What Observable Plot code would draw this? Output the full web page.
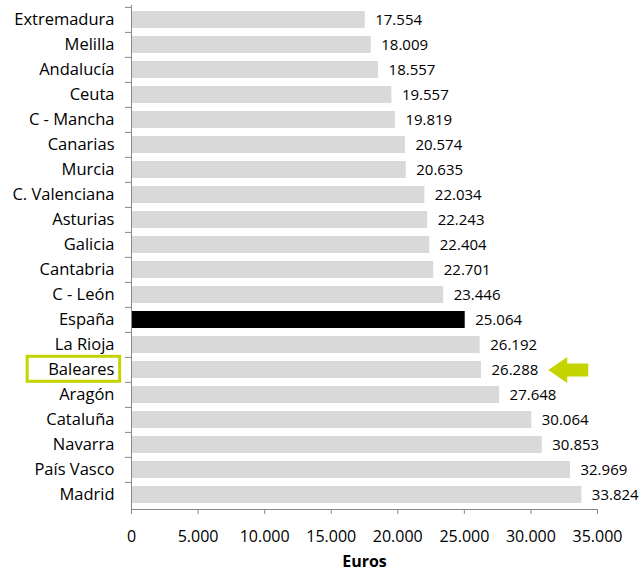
<!DOCTYPE html>
<html>
<head>
<meta charset="utf-8">
<script src="https://cdn.jsdelivr.net/npm/d3@7"></script>
<script src="https://cdn.jsdelivr.net/npm/@observablehq/plot@0.6"></script>
<style>
  html, body { margin: 0; padding: 0; background: #fff; }
</style>
</head>
<body>
<script>
const regions = ["Extremadura","Melilla","Andalucía","Ceuta","C - Mancha","Canarias","Murcia","C. Valenciana","Asturias","Galicia","Cantabria","C - León","España","La Rioja","Baleares","Aragón","Cataluña","Navarra","País Vasco","Madrid"];
const values = [17554,18009,18557,19557,19819,20574,20635,22034,22243,22404,22701,23446,25064,26192,26288,27648,30064,30853,32969,33824];
const xTicks = [0,5000,10000,15000,20000,25000,30000,35000];
const highlighted = "Baleares";
const total = "España";
const arrowTip = [31300];
const axisTitle = "Euros";

const data = regions.map((r, i) => ({region: r, value: values[i]}));
const fmt = d3.formatLocale({decimal: ",", thousands: ".", grouping: [3], currency: ["", "€"]}).format(",d");

const green = "#c3d400";
const arrowSymbol = {
  draw(ctx) {
    ctx.moveTo(0, 0);
    ctx.lineTo(19, -13);
    ctx.lineTo(19, -6.5);
    ctx.lineTo(40, -6.5);
    ctx.lineTo(40, 6.5);
    ctx.lineTo(19, 6.5);
    ctx.lineTo(19, 13);
    ctx.closePath();
  }
};

const step = (509 - 5) / regions.length;

const svg = Plot.plot({
  width: 642,
  height: 578,
  marginTop: 5,
  marginBottom: 69,
  marginLeft: 131,
  marginRight: 45,
  style: {fontFamily: "'Open Sans', sans-serif", fontSize: "15px", color: "#000", background: "#fff"},
  x: {domain: [0, 35000], label: null},
  y: {domain: regions, paddingInner: 0.32, paddingOuter: 0.16, label: null},
  marks: [
    Plot.barX(data, {x: "value", y: "region", fill: d => d.region === total ? "#000" : "#d9d9d9"}),
    Plot.text(data, {x: "value", y: "region", text: d => fmt(d.value), textAnchor: "start", dx: 10, fontSize: 15, fill: "#000"}),
    Plot.axisY({tickSize: 0, tickPadding: 17, fontSize: 16.5, label: null}),
    Plot.axisY({tickSize: 6, text: null, dy: -step / 2, stroke: "#888", label: null}),
    Plot.ruleX([0], {stroke: "#888"}),
    Plot.frame({anchor: "bottom", stroke: "#888"}),
    Plot.axisX({ticks: xTicks, tickFormat: fmt, tickSize: 5, tickPadding: 16, stroke: "#888", fontSize: 16, label: null}),
    Plot.text([axisTitle], {frameAnchor: "bottom", text: d => d, dy: 57, fontWeight: "bold", fontSize: 16}),
    Plot.dot(arrowTip.map(x => ({x, region: highlighted})), {x: "x", y: "region", symbol: arrowSymbol, r: 5, fill: green, stroke: "none"})
  ]
});
document.body.append(svg);

// highlight box around the Baleares category label
const label = Array.from(svg.querySelectorAll("text")).find(t => t.textContent === highlighted);
if (label) {
  const b = label.getBBox();
  const ctm = label.getCTM();
  const svgCtm = svg.getCTM ? svg.getCTM() : null;
  const m = svgCtm ? svgCtm.inverse().multiply(ctm) : ctm;
  const pt = svg.createSVGPoint();
  pt.x = b.x; pt.y = b.y;
  const p1 = pt.matrixTransform(m);
  const pt2 = svg.createSVGPoint();
  pt2.x = b.x + b.width; pt2.y = b.y + b.height;
  const p2 = pt2.matrixTransform(m);
  const cy = (p1.y + p2.y) / 2;
  d3.select(svg).append("rect")
    .attr("x", p1.x - 21)
    .attr("y", cy - 12.5)
    .attr("width", (p2.x - p1.x) + 26)
    .attr("height", 25)
    .attr("fill", "none")
    .attr("stroke", green)
    .attr("stroke-width", 3);
}
</script>
</body>
</html>
